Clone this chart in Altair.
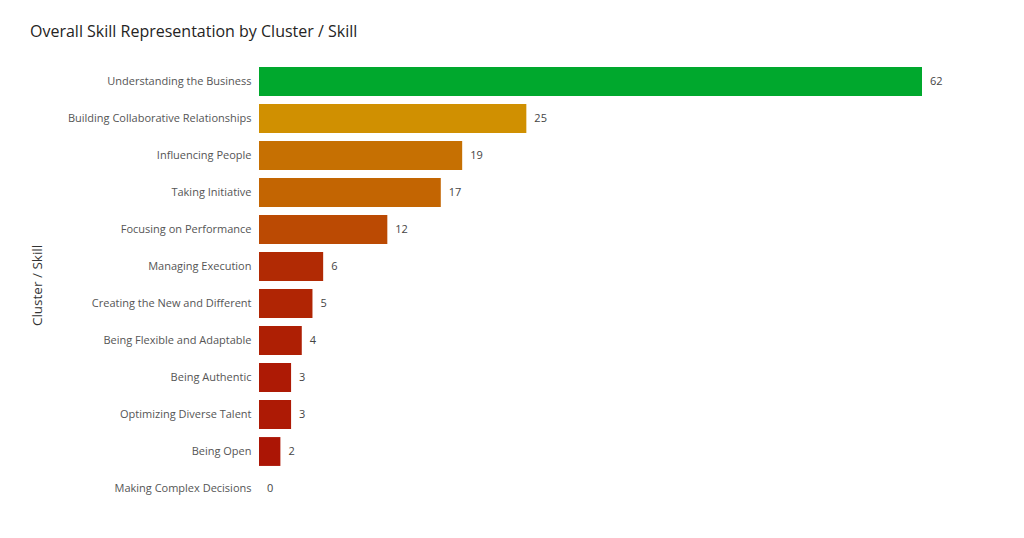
import altair as alt
import pandas as pd

skills = [
    "Understanding the Business",
    "Building Collaborative Relationships",
    "Influencing People",
    "Taking Initiative",
    "Focusing on Performance",
    "Managing Execution",
    "Creating the New and Different",
    "Being Flexible and Adaptable",
    "Being Authentic",
    "Optimizing Diverse Talent",
    "Being Open",
    "Making Complex Decisions",
]
counts = [62, 25, 19, 17, 12, 6, 5, 4, 3, 3, 2, 0]

df = pd.DataFrame({"skill": skills, "count": counts})

FONT = "Open Sans"

y_enc = alt.Y(
    "skill:N",
    sort=skills,
    scale=alt.Scale(paddingInner=0.22, paddingOuter=0.11),
    axis=alt.Axis(
        title="Cluster / Skill",
        titleFont=FONT,
        titleFontSize=13.5,
        titleFontWeight="normal",
        titleColor="#333333",
        titleX=-215,
        labelFont=FONT,
        labelFontSize=11,
        labelColor="#555555",
        labelPadding=8,
        labelLimit=400,
        ticks=False,
        domain=False,
        grid=False,
    ),
)
x_enc = alt.X(
    "count:Q",
    scale=alt.Scale(domain=[0, 62], nice=False),
    axis=None,
)

bars = alt.Chart(df).mark_bar(clip=False).encode(
    y=y_enc,
    x=x_enc,
    color=alt.Color(
        "count:Q",
        scale=alt.Scale(
            domain=[0, 31, 62],
            range=["#A80A05", "#D9B000", "#00A82D"],
            interpolate="rgb",
        ),
        legend=None,
    ),
)

labels = alt.Chart(df).mark_text(
    align="left", baseline="middle", dx=8, font=FONT, fontSize=11, color="#444444"
).encode(
    y=alt.Y("skill:N", sort=skills),
    x=alt.X("count:Q"),
    text=alt.Text("count:Q"),
)

chart = (
    alt.layer(bars, labels)
    .properties(
        width=663,
        height=444,
        background="white",
        title=alt.TitleParams(
            "Overall Skill Representation by Cluster / Skill",
            anchor="start",
            dx=0,
            font=FONT,
            fontSize=16,
            fontWeight=500,
            color="#252423",
            offset=23,
        ),
        autosize=alt.AutoSizeParams(type="none"),
        padding={"left": 251, "top": 55, "right": 94, "bottom": 23},
    )
    .configure_view(stroke="transparent", strokeWidth=0)
)

chart.save("out.html", embed_options={"renderer": "svg", "actions": False})
